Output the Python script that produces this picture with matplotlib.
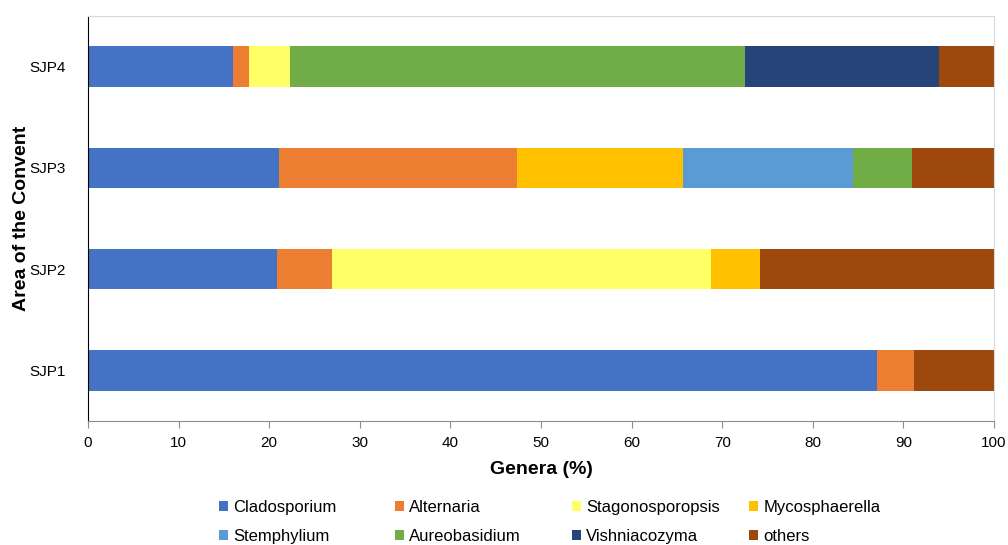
import matplotlib.pyplot as plt
import numpy as np

plt.rcParams['font.family'] = ['Liberation Sans', 'DejaVu Sans']

areas = ["SJP1", "SJP2", "SJP3", "SJP4"]
genera = ["Cladosporium", "Alternaria", "Stagonosporopsis", "Mycosphaerella",
          "Stemphylium", "Aureobasidium", "Vishniacozyma", "others"]
colors = ["#4472C4", "#ED7D31", "#FFFF66", "#FFC000",
          "#5B9BD5", "#70AD47", "#264478", "#9E480E"]

# percentages per genus, order SJP1..SJP4
cladosporium = [87.1, 20.9, 21.1, 16.0]
alternaria = [4.1, 6.0, 26.3, 1.8]
stagonosporopsis = [0, 41.9, 0, 4.5]
mycosphaerella = [0, 5.4, 18.3, 0]
stemphylium = [0, 0, 18.7, 0]
aureobasidium = [0, 0, 6.5, 50.2]
vishniacozyma = [0, 0, 0, 21.4]
others = [8.8, 25.8, 9.1, 6.1]

series = [cladosporium, alternaria, stagonosporopsis, mycosphaerella,
          stemphylium, aureobasidium, vishniacozyma, others]

fig = plt.figure(figsize=(10.08, 5.45), dpi=100)
ax = fig.add_axes([0.0873, 0.2275, 0.8988, 0.7431])

y = np.arange(len(areas))
left = np.zeros(len(areas))
bars = []
for name, vals, c in zip(genera, series, colors):
    b = ax.barh(y, vals, left=left, height=0.4, color=c, label=name)
    bars.append(b)
    left += np.array(vals)

ax.set_xlim(0, 100)
ax.set_ylim(-0.5, 3.5)
ax.set_xticks(range(0, 101, 10))
ax.set_yticks(y)
ax.set_yticklabels(areas)
ax.tick_params(axis='y', length=0, labelsize=11, pad=16)
ax.tick_params(axis='x', length=5, labelsize=11, color='#8c8c8c', pad=6)

ax.spines['left'].set_color('black')
ax.spines['bottom'].set_color('#8c8c8c')
ax.spines['top'].set_color('#d9d9d9')
ax.spines['right'].set_color('#d9d9d9')

ax.set_xlabel("Genera (%)", fontsize=14, fontweight='bold', labelpad=8)
ax.set_ylabel("Area of the Convent", fontsize=14, fontweight='bold')
ax.yaxis.set_label_coords(-0.064, 0.5)

# legend: four fixed-width columns of two rows, like the Excel original
col_x = [219, 395, 572, 749]
for j, xpix in enumerate(col_x):
    hs = [bars[j], bars[j + 4]]
    ls = [genera[j], genera[j + 4]]
    leg = fig.legend(hs, ls, loc='upper left',
                     bbox_to_anchor=(xpix / 1008, 1 - 500 / 545),
                     frameon=False, fontsize=12, borderpad=0, borderaxespad=0,
                     handlelength=0.55, handleheight=0.55, handletextpad=0.3,
                     labelspacing=0.85)

fig.savefig("out.png", dpi=100)
